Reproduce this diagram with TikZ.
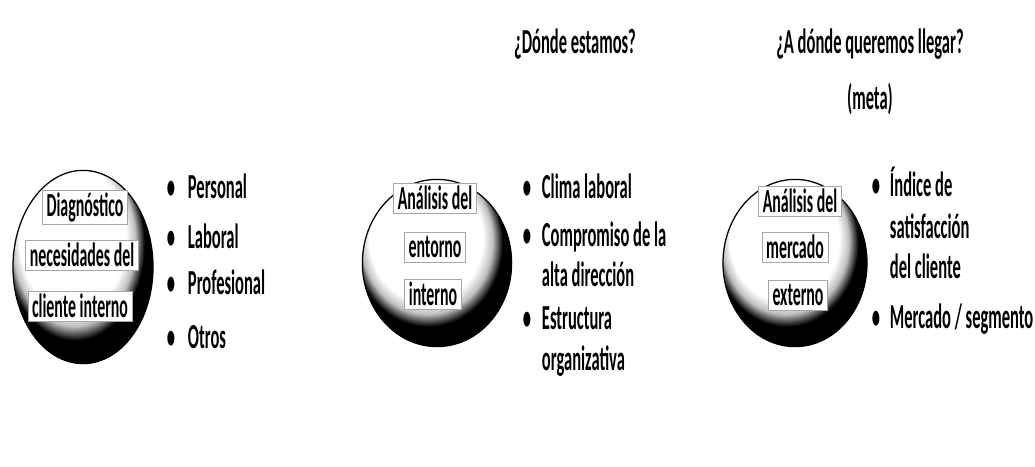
\documentclass[tikz,border=0pt]{standalone}
\usepackage{fontspec}
\setmainfont[FakeStretch=0.47]{Carlito}
\usetikzlibrary{shapes.geometric}
\pgfdeclareradialshading{esfera}{\pgfpoint{-6bp}{12bp}}{color(0bp)=(white); color(19bp)=(white); color(22bp)=(gray!50); color(25bp)=(black); color(50bp)=(black)}
\tikzset{
  orbe/.style={ellipse, draw=black, line width=0.9pt, shade, shading=esfera},
  caja/.style={draw=gray!70, fill=white, inner xsep=3pt, inner ysep=1.5pt, minimum height=0.75cm, font=\fontsize{24}{24}\selectfont\bfseries},
  punto/.style={anchor=base west, font=\fontsize{25}{25}\selectfont\bfseries},
  titulo/.style={anchor=base, font=\fontsize{25}{25}\selectfont\bfseries}
}
\begin{document}
\begin{tikzpicture}[x=0.025cm, y=-0.025cm]
    \useasboundingbox (0,0) rectangle (1035,467);
    % Preguntas
    \node[titulo] (q1) at (575,54) {¿Dónde estamos?};
    \node[titulo] (q2) at (870,54) {¿A dónde queremos llegar?};
    \node[titulo] (q3) at (870,109) {(meta)};
    % Diagnostico
    \begin{scope}
        \node[orbe, minimum width=3.5cm, minimum height=4.83cm] (o1) at (83,267) {};
        \node[caja] (o1a) at (85,207) {Diagnóstico};
        \node[caja] (o1b) at (82,255) {necesidades del};
        \node[caja] (o1c) at (80,306) {cliente interno};
        \node[punto] (b1a) at (162,198) {\textbullet};
        \node[punto] (b1b) at (162,248) {\textbullet};
        \node[punto] (b1c) at (162,294) {\textbullet};
        \node[punto] (b1d) at (162,348) {\textbullet};
        \node[punto] (t1a) at (183,198) {Personal};
        \node[punto] (t1b) at (183,248) {Laboral};
        \node[punto] (t1c) at (183,294) {Profesional};
        \node[punto] (t1d) at (183,348) {Otros};
    \end{scope}
    % Donde estamos
    \begin{scope}
        \node[orbe, minimum width=3.73cm, minimum height=4.18cm] (o2) at (437,263) {};
        \node[caja] (o2a) at (435,198) {Análisis del};
        \node[caja] (o2b) at (435,247) {entorno};
        \node[caja] (o2c) at (433,294) {interno};
        \node[punto] (b2a) at (518,198) {\textbullet};
        \node[punto] (b2b) at (518,246) {\textbullet};
        \node[punto] (b2c) at (518,329) {\textbullet};
        \node[punto] (t2a) at (537,198) {Clima laboral};
        \node[punto] (t2b) at (537,246) {Compromiso de la};
        \node[punto] (t2c) at (537,286) {alta dirección};
        \node[punto] (t2d) at (537,329) {Estructura};
        \node[punto] (t2e) at (537,370) {organizativa};
    \end{scope}
    % Meta
    \begin{scope}
        \node[orbe, minimum width=3.6cm, minimum height=4.18cm] (o3) at (795,263) {};
        \node[caja] (o3a) at (800,201) {Análisis del};
        \node[caja] (o3b) at (795,247) {mercado};
        \node[caja] (o3c) at (798,295) {externo};
        \node[punto] (b3a) at (867,196) {\textbullet};
        \node[punto] (b3b) at (867,328) {\textbullet};
        \node[punto] (t3a) at (885,196) {Índice de};
        \node[punto] (t3b) at (885,238) {satisfacción};
        \node[punto] (t3c) at (885,278) {del cliente};
        \node[punto] (t3d) at (885,328) {Mercado / segmento};
    \end{scope}
\end{tikzpicture}
\end{document}
